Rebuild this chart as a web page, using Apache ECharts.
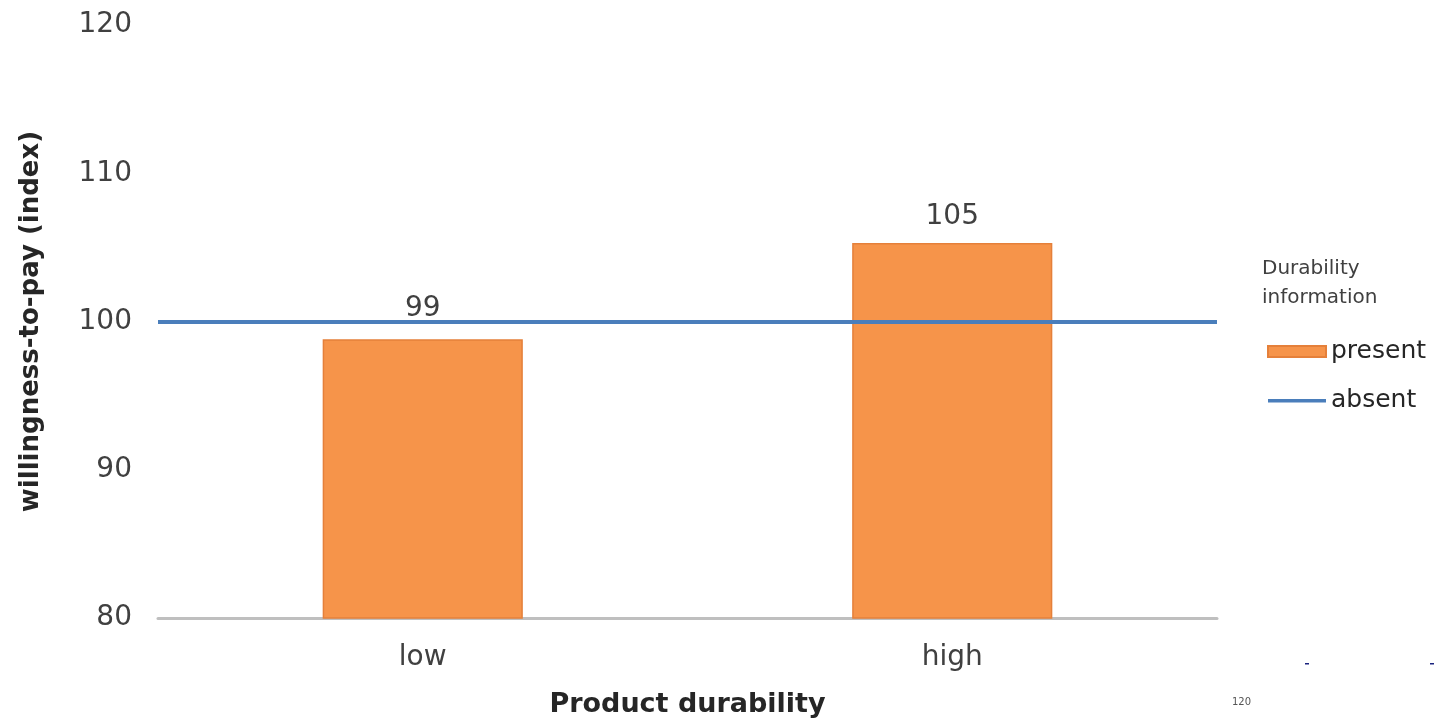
<!DOCTYPE html>
<html>
<head>
<meta charset="utf-8">
<script src="https://cdn.jsdelivr.net/npm/echarts@6/dist/echarts.min.js"></script>
<style>html,body{margin:0;padding:0;background:#fff;}#c{width:1434px;height:726px;}</style>
</head>
<body>
<div id="c"></div>
<script>
const categories = ['low', 'high'];
const presentValues = [98.8, 105.3];
const presentLabels = ['99', '105'];
const absentValue = 100;
const yTicks = [80, 90, 100, 110, 120];

const chart = echarts.init(document.getElementById('c'));
const font = '"DejaVu Sans", "Liberation Sans", Arial, sans-serif';
const labelDistances = [17, 12];
chart.setOption({
  animation: false,
  grid: { left: 158, right: 217, top: 25, bottom: 108 },
  xAxis: {
    type: 'category',
    data: categories,
    name: 'Product durability',
    nameLocation: 'middle',
    nameGap: 73,
    nameTextStyle: { fontFamily: font, fontSize: 27, fontWeight: 'bold', color: '#262626' },
    axisLine: { lineStyle: { color: '#BFBFBF', width: 3 } },
    axisTick: { show: false },
    axisLabel: { fontFamily: font, fontSize: 28, color: '#404040', margin: 26 }
  },
  yAxis: {
    type: 'value',
    min: yTicks[0], max: yTicks[yTicks.length - 1], interval: 10,
    name: 'willingness-to-pay (index)',
    nameLocation: 'middle',
    nameGap: 114,
    nameTextStyle: { fontFamily: font, fontSize: 26, fontWeight: 'bold', color: '#262626' },
    axisLine: { show: false },
    axisTick: { show: false },
    splitLine: { show: false },
    axisLabel: { fontFamily: font, fontSize: 28, color: '#404040', margin: 26 }
  },
  legend: {
    orient: 'vertical',
    left: 1262, top: 334,
    itemWidth: 58, itemHeight: 11, itemGap: 24,
    textStyle: { fontFamily: font, fontSize: 25, color: '#262626' },
    data: [
      { name: 'present', icon: 'rect' },
      { name: 'absent', icon: 'path://M0,0L0,0M58,0L58,0M0,11L0,11M58,11L58,11M0,4L58,4L58,7.5L0,7.5Z' }
    ]
  },
  graphic: [
    { type: 'text', left: 1262, top: 254, style: { text: 'Durability\ninformation', font: '20px "DejaVu Sans", sans-serif', fill: '#404040', lineHeight: 29 } },
    { type: 'text', left: 1232, top: 697, style: { text: '120', font: '10px "DejaVu Sans", sans-serif', fill: '#555' } },
    { type: 'rect', shape: { x: 1305, y: 663, width: 4, height: 1.5 }, style: { fill: '#1a237e' } },
    { type: 'rect', shape: { x: 1430, y: 663, width: 4, height: 1.5 }, style: { fill: '#1a237e' } }
  ],
  series: [
    {
      name: 'present',
      type: 'bar',
      data: presentValues.map((v, i) => ({ value: v, label: { distance: labelDistances[i] } })),
      barWidth: '37.8%',
      itemStyle: { color: '#F6944A', borderColor: '#E5803A', borderWidth: 1.5 },
      label: {
        show: true, position: 'top',
        fontFamily: font, fontSize: 28, color: '#404040',
        formatter: p => presentLabels[p.dataIndex]
      },
      z: 2
    },
    {
      name: 'absent',
      type: 'line',
      data: [],
      symbol: 'none',
      lineStyle: { color: '#4A7EBB', width: 4 },
      itemStyle: { color: '#4A7EBB' },
      markLine: {
        silent: true,
        symbol: ['none', 'none'],
        label: { show: false },
        lineStyle: { color: '#4A7EBB', width: 4, type: 'solid' },
        data: [{ yAxis: absentValue }]
      },
      z: 3
    }
  ]
});
</script>
</body>
</html>
